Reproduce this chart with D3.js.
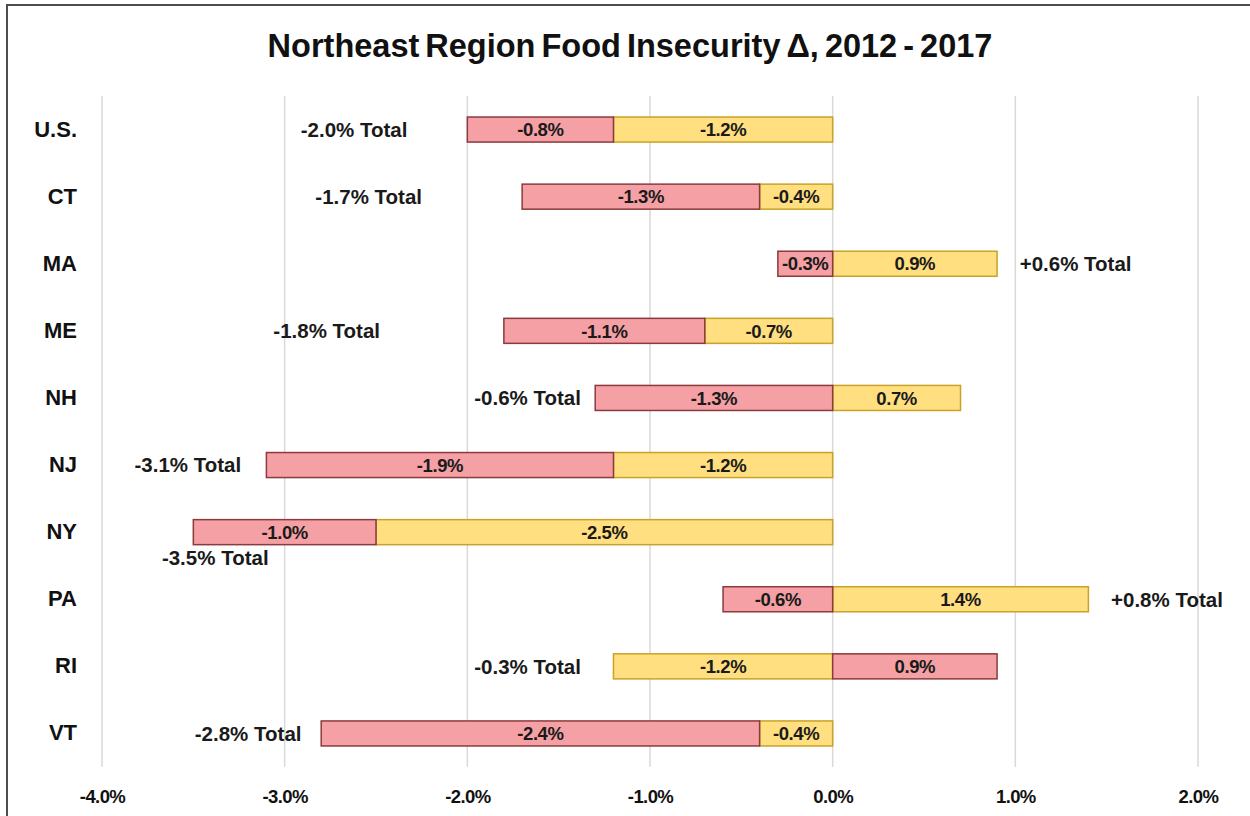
<!DOCTYPE html>
<html>
<head>
<meta charset="utf-8">
<script src="https://cdn.jsdelivr.net/npm/d3@7"></script>
<style>
  html, body { margin: 0; padding: 0; background: #fff; }
  svg { display: block; font-family: Arial, "Liberation Sans", sans-serif; }
</style>
</head>
<body>
<svg id="chart" width="1250" height="816"></svg>
<script>
// ---- data ----
const title = "Northeast Region Food Insecurity \u0394, 2012 - 2017";
const categories = ["U.S.", "CT", "MA", "ME", "NH", "NJ", "NY", "PA", "RI", "VT"];
const yellowValues = [-1.2, -0.4, 0.9, -0.7, 0.7, -1.2, -2.5, 1.4, -1.2, -0.4];
const redValues    = [-0.8, -1.3, -0.3, -1.1, -1.3, -1.9, -1.0, -0.6, 0.9, -2.4];
// where each "Total" annotation is centred, in axis units (%)
const totalLabelAt = [-2.62, -2.54, 1.33, -2.77, -1.67, -3.53, -3.38, 1.83, -1.67, -3.20];
const totalLabelBelow = [false, false, false, false, false, false, true, false, false, false];
const xTicks = [-4, -3, -2, -1, 0, 1, 2];

// ---- setup ----
const svg = d3.select("#chart");
const loc = d3.formatLocale({ decimal: ".", thousands: ",", grouping: [3], currency: ["$", ""], minus: "-" });
const f1 = loc.format(".1f");

const x = d3.scaleLinear().domain([-4, 2]).range([102, 1198]);
const y = d3.scaleBand().domain(categories).range([96, 767])
  .paddingInner(0.627).paddingOuter(0.3135);

// frame (left & top visible)
svg.append("rect").attr("x", 7).attr("y", 5).attr("width", 1260).attr("height", 830)
  .attr("fill", "none").attr("stroke", "#4d4d4d").attr("stroke-width", 2);

// title
svg.append("text").attr("x", 630).attr("y", 57).attr("text-anchor", "middle")
  .attr("font-size", 32.5).attr("font-weight", "bold").attr("fill", "#111")
  .attr("word-spacing", "-3px")
  .text(title);

// gridlines
svg.append("g").selectAll("line").data(xTicks).join("line")
  .attr("x1", d => x(d)).attr("x2", d => x(d))
  .attr("y1", 96).attr("y2", 767)
  .attr("stroke", "#d9d9d9").attr("stroke-width", 1.5);

// x axis labels
const xAxis = d3.axisBottom(x).tickValues(xTicks)
  .tickFormat(d => f1(d) + "%").tickSize(0).tickPadding(0);
const gx = svg.append("g").attr("transform", "translate(0,790)").call(xAxis);
gx.select(".domain").remove();
gx.selectAll("text").attr("font-size", 18.5).attr("font-weight", "bold")
  .attr("fill", "#111").attr("font-family", "Arial, 'Liberation Sans', sans-serif")
  .attr("letter-spacing", "-0.6px");

// y axis labels
const yAxis = d3.axisLeft(y).tickSize(0).tickPadding(0);
const gy = svg.append("g").attr("transform", "translate(77,0)").call(yAxis);
gy.select(".domain").remove();
gy.selectAll("text").attr("font-size", 22).attr("font-weight", "bold")
  .attr("fill", "#111").attr("font-family", "Arial, 'Liberation Sans', sans-serif");

// stacked data
const rows = categories.map((c, i) => ({ cat: c, yellow: yellowValues[i], red: redValues[i] }));
const keys = ["yellow", "red"];
const colors = {
  yellow: { fill: "#ffdf80", stroke: "#c9a227" },
  red:    { fill: "#f4a0a4", stroke: "#8b3a3d" }
};
const stacked = d3.stack().keys(keys).offset(d3.stackOffsetDiverging)(rows);

const barsG = svg.append("g");
stacked.forEach(series => {
  const k = series.key;
  barsG.append("g").selectAll("rect").data(series).join("rect")
    .attr("x", d => x(Math.min(d[0], d[1])))
    .attr("width", d => Math.abs(x(d[1]) - x(d[0])))
    .attr("y", d => y(d.data.cat))
    .attr("height", y.bandwidth())
    .attr("fill", colors[k].fill)
    .attr("stroke", colors[k].stroke)
    .attr("stroke-width", 1.5);
});
stacked.forEach(series => {
  const k = series.key;
  svg.append("g").selectAll("text").data(series).join("text")
    .attr("x", d => x((d[0] + d[1]) / 2))
    .attr("y", d => y(d.data.cat) + y.bandwidth() / 2)
    .attr("dy", "0.36em")
    .attr("text-anchor", "middle")
    .attr("font-size", 18.5).attr("font-weight", "bold").attr("fill", "#1a1a1a")
    .attr("letter-spacing", "-0.4px")
    .text(d => f1(d.data[k]) + "%");
});

// total annotations
svg.append("g").selectAll("text").data(rows).join("text")
  .attr("x", (d, i) => x(totalLabelAt[i]))
  .attr("y", (d, i) => y(d.cat) + y.bandwidth() / 2 + (totalLabelBelow[i] ? 25 : 0))
  .attr("dy", "0.36em")
  .attr("text-anchor", "middle")
  .attr("font-size", 20.5).attr("font-weight", "bold").attr("fill", "#1a1a1a")
  .text(d => {
    const t = Math.round((d.yellow + d.red) * 10) / 10;
    return (t > 0 ? "+" : "") + f1(t) + "% Total";
  });
</script>
</body>
</html>
